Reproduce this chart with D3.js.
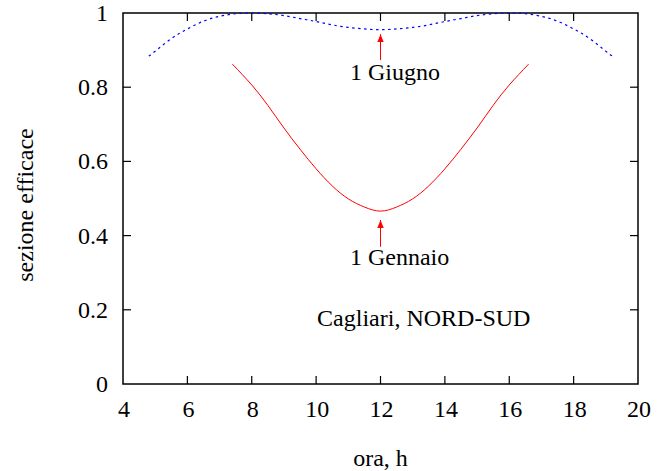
<!DOCTYPE html>
<html>
<head>
<meta charset="utf-8">
<script src="https://cdn.jsdelivr.net/npm/d3@7"></script>
</head>
<body style="margin:0">
<svg id="chart" width="670" height="471" font-family="Liberation Serif" font-size="24"></svg>
<script>
// valori
const giugnoOre = [4.8, 5, 5.5, 6, 6.5, 7, 7.5, 8, 8.5, 9, 9.5, 10, 10.5, 11, 11.5, 12,
  12.5, 13, 13.5, 14, 14.5, 15, 15.5, 16, 16.5, 17, 17.5, 18, 18.5, 19, 19.2];
const giugnoValori = [0.884, 0.897, 0.931, 0.957, 0.978, 0.991, 0.998, 1.0, 0.998, 0.993, 0.985, 0.977, 0.968, 0.961, 0.957, 0.955,
  0.957, 0.961, 0.968, 0.977, 0.985, 0.993, 0.998, 1.0, 0.998, 0.991, 0.978, 0.957, 0.931, 0.897, 0.884];

const gennaioOre = [7.4, 8, 8.5, 9, 9.5, 10, 10.5, 11, 11.5, 12,
  12.5, 13, 13.5, 14, 14.5, 15, 15.5, 16, 16.6];
const gennaioValori = [0.862, 0.806, 0.751, 0.690, 0.633, 0.580, 0.534, 0.499, 0.477, 0.466,
  0.477, 0.499, 0.534, 0.580, 0.633, 0.690, 0.751, 0.806, 0.862];

const xTicks = [4, 6, 8, 10, 12, 14, 16, 18, 20];
const yTicks = [0, 0.2, 0.4, 0.6, 0.8, 1];

const svg = d3.select("#chart");
const margin = { left: 123, right: 638, top: 13, bottom: 384 };

const x = d3.scaleLinear().domain([4, 20]).range([margin.left, margin.right]);
const y = d3.scaleLinear().domain([0, 1]).range([margin.bottom, margin.top]);

const tickLen = 8;

function testo(sel) {
  return sel
    .attr("font-family", "Liberation Serif")
    .attr("font-size", 24)
    .style("font-family", "'Liberation Serif'")
    .style("font-size", "24px")
    .attr("fill", "#000");
}

// cornice
svg.append("rect")
  .attr("x", margin.left).attr("y", margin.top)
  .attr("width", margin.right - margin.left).attr("height", margin.bottom - margin.top)
  .attr("fill", "none").attr("stroke", "#000").attr("stroke-width", 1.5);

// tacche verso l'interno su tutti i lati
const tacche = svg.append("g").attr("stroke", "#000").attr("stroke-width", 1.2);
tacche.selectAll(".xb").data(xTicks.slice(1, -1)).join("line")
  .attr("x1", d => x(d)).attr("x2", d => x(d))
  .attr("y1", margin.bottom).attr("y2", margin.bottom - tickLen);
tacche.selectAll(".xt").data(xTicks.slice(1, -1)).join("line")
  .attr("x1", d => x(d)).attr("x2", d => x(d))
  .attr("y1", margin.top).attr("y2", margin.top + tickLen);
tacche.selectAll(".yl").data(yTicks.slice(1, -1)).join("line")
  .attr("x1", margin.left).attr("x2", margin.left + tickLen)
  .attr("y1", d => y(d)).attr("y2", d => y(d));
tacche.selectAll(".yr").data(yTicks.slice(1, -1)).join("line")
  .attr("x1", margin.right).attr("x2", margin.right - tickLen)
  .attr("y1", d => y(d)).attr("y2", d => y(d));

// etichette delle tacche
svg.selectAll(".xlab").data(xTicks).join("text")
  .attr("x", d => x(d) + 1)
  .attr("y", 417)
  .attr("text-anchor", "middle")
  .text(d => d)
  .call(testo);
svg.selectAll(".ylab").data(yTicks).join("text")
  .attr("x", 108)
  .attr("y", d => y(d) + 8)
  .attr("text-anchor", "end")
  .text(d => d)
  .call(testo);

// curve
const line = d3.line()
  .x(d => x(d[0]))
  .y(d => y(d[1]))
  .curve(d3.curveNatural);

svg.append("path")
  .datum(d3.zip(gennaioOre, gennaioValori))
  .attr("d", line)
  .attr("fill", "none")
  .attr("stroke", "#ff0000")
  .attr("stroke-width", 1);

svg.append("path")
  .datum(d3.zip(giugnoOre, giugnoValori))
  .attr("d", line)
  .attr("fill", "none")
  .attr("stroke", "#0000ff")
  .attr("stroke-width", 1.2)
  .attr("stroke-dasharray", "2.5,3.5");

// frecce ed etichette
svg.append("defs").append("marker")
  .attr("id", "punta")
  .attr("viewBox", "0 0 10 8")
  .attr("refX", 10).attr("refY", 4)
  .attr("markerWidth", 8).attr("markerHeight", 6.4)
  .attr("markerUnits", "userSpaceOnUse")
  .attr("orient", "auto")
  .append("path")
  .attr("d", "M0,0 L10,4 L0,8 Z")
  .attr("fill", "#ff0000");

const frecce = [
  { x: 12, y0: 0.873, y1: 0.943 },
  { x: 12, y0: 0.37, y1: 0.442 }
];
frecce.forEach(f => {
  svg.append("line")
    .attr("x1", x(f.x)).attr("y1", y(f.y0))
    .attr("x2", x(f.x)).attr("y2", y(f.y1))
    .attr("stroke", "#ff0000")
    .attr("stroke-width", 1)
    .attr("marker-end", "url(#punta)");
});

const etichette = [
  { testo: "1 Giugno", x: 11.05, y: 0.819 },
  { testo: "1 Gennaio", x: 11.05, y: 0.32 },
  { testo: "Cagliari, NORD-SUD", x: 10.03, y: 0.156 }
];
etichette.forEach(e => {
  svg.append("text")
    .attr("x", x(e.x))
    .attr("y", y(e.y))
    .text(e.testo)
    .call(testo);
});

// titoli assi
svg.append("text")
  .attr("x", x(12))
  .attr("y", 466)
  .attr("text-anchor", "middle")
  .text("ora, h")
  .call(testo);

svg.append("text")
  .attr("transform", "translate(33,205) rotate(-90)")
  .attr("text-anchor", "middle")
  .text("sezione efficace")
  .call(testo);
</script>
</body>
</html>
